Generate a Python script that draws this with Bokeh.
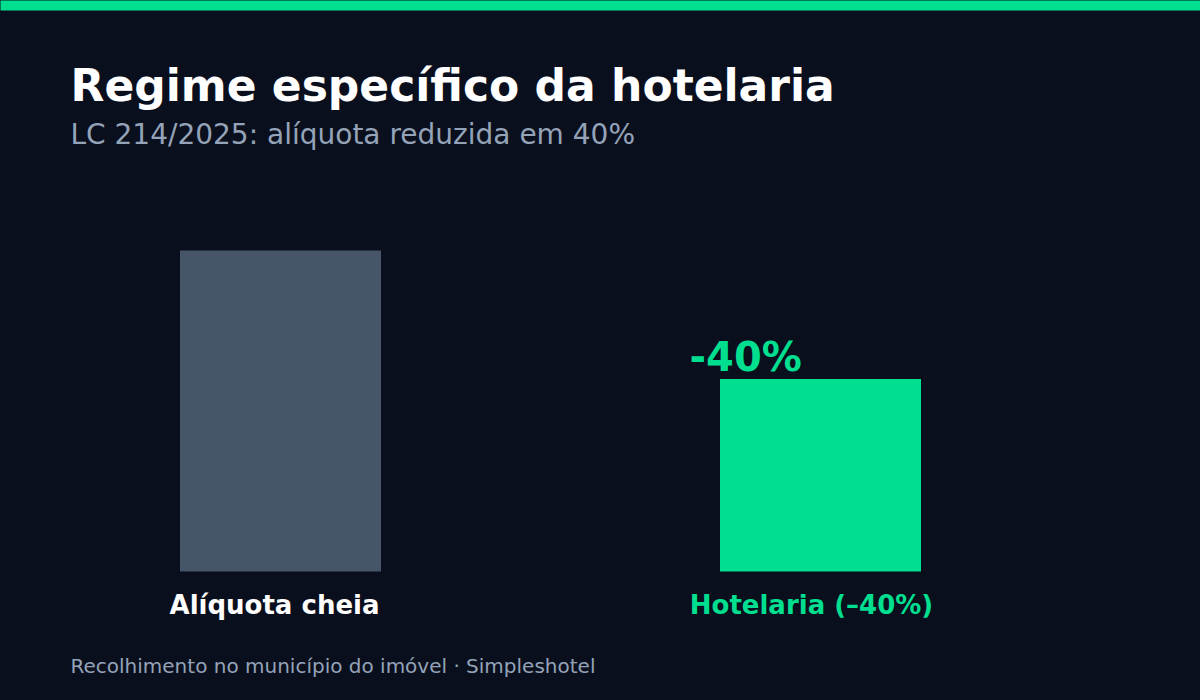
from bokeh.plotting import figure
from bokeh.models import Range1d, ColumnDataSource
from bokeh.core.properties import value
from bokeh.embed import file_html
from bokeh.resources import INLINE

# ---- data ----
categories = ["Alíquota cheia", "Hotelaria (–40%)"]
values = [100, 60]
bar_colors = ["#475569", "#00df8f"]
label_colors = ["#ffffff", "#00df8f"]
reduction_label = "-40%"
title = "Regime específico da hotelaria"
subtitle = "LC 214/2025: alíquota reduzida em 40%"
footer = "Recolhimento no município do imóvel · Simpleshotel"

BG = "#0a0f1e"
GREEN = "#00df8f"
GREY = "#94a3b8"
FONT = value("DejaVu Sans")

idx = list(range(len(categories)))

p = figure(width=1200, height=700, output_backend="svg", toolbar_location=None,
           x_axis_location=None, y_axis_location=None, min_border=0,
           x_range=Range1d(-280 / 540, 920 / 540),
           y_range=Range1d(-129 / 3.21, 571 / 3.21))
p.extra_x_ranges = {"px": Range1d(0, 1200)}
p.extra_y_ranges = {"px": Range1d(700, 0)}
p.background_fill_color = BG
p.border_fill_color = BG
p.outline_line_color = None
p.grid.visible = False
p.styles = {"background-color": BG}

# top strip
p.quad(left=[-5], right=[1205], top=[-5], bottom=[10], color=GREEN, line_color=None,
       x_range_name="px", y_range_name="px")

src = ColumnDataSource(dict(x=idx, v=values, c=bar_colors, cat=categories, lc=label_colors,
                            xo=[-6, -9]))
p.vbar(x="x", top="v", bottom=0, width=201 / 540, color="c", line_color=None, source=src)

# category labels
p.text(x="x", y=604, text="cat", text_color="lc", source=src, y_range_name="px",
       text_align="center", text_baseline="alphabetic", text_font=FONT,
       text_font_size="26px", text_font_style="bold", x_offset="xo")

# reduction label above hotel bar
p.text(x=[idx[1]], y=[356], text=[reduction_label], y_range_name="px",
       text_align="left", text_baseline="alphabetic", text_font=FONT,
       text_font_size="40px", text_font_style="bold", text_color=GREEN, x_offset=-131)

# title / subtitle / footer
p.text(x=[70], y=[85], text=[title], x_range_name="px", y_range_name="px",
       text_align="left", text_baseline="alphabetic", text_font=FONT,
       text_font_size="44px", text_font_style="bold", text_color="#ffffff")
p.text(x=[70], y=[134], text=[subtitle], x_range_name="px", y_range_name="px",
       text_align="left", text_baseline="alphabetic", text_font=FONT,
       text_font_size="28px", text_color=GREY)
p.text(x=[70], y=[665], text=[footer], x_range_name="px", y_range_name="px",
       text_align="left", text_baseline="alphabetic", text_font=FONT,
       text_font_size="20px", text_color=GREY)

open("out.html", "w").write(file_html(p, INLINE))
